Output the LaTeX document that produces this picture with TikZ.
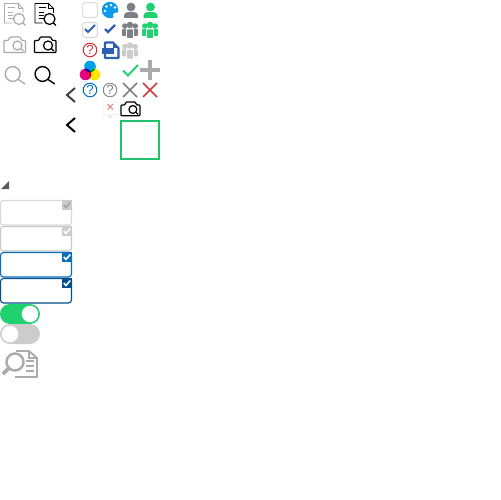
\documentclass[tikz,border=0pt]{standalone}
\usepackage{tikz}
\usepackage{fontspec}
\newfontfamily\helpfont{Liberation Sans}

\definecolor{lightgrey}{HTML}{ABABAB}
\definecolor{midgrey}{HTML}{7F7F86}
\definecolor{pale}{HTML}{CCCCCC}
\definecolor{appgreen}{HTML}{1FD16F}
\definecolor{boxgreen}{HTML}{22C26A}
\definecolor{appblue}{HTML}{0A6EBD}
\definecolor{darkblue}{HTML}{03508F}
\definecolor{checkblue}{HTML}{2C5FB3}
\definecolor{skyblue}{HTML}{0A9BEB}
\definecolor{alertred}{HTML}{D0393D}
\definecolor{inkcyan}{HTML}{00A0E6}
\definecolor{inkmagenta}{HTML}{E6007E}
\definecolor{inkyellow}{HTML}{FFE600}

\tikzset{
  iconline/.style={line width=0.7pt, line join=round},
  thinline/.style={line width=0.5pt, line join=round},
  fieldbox/.style={rounded corners=1.7pt, fill=white, line width=0.65pt},
  knob/.style={fill=white, draw=none},
  helpmark/.style={font=\helpfont\fontsize{7.5}{7.5}\selectfont}
}

% document with magnifier: \docicon{x}{colour}
\newcommand{\docicon}[2]{
  \begin{scope}[shift={(#1,0)}]
    \draw[thinline,draw=#2] (12,23) -- (4.5,23) -- (4.5,3.5) -- (18,3.5) -- (23,8.5) -- (23,13);
    \draw[thinline,draw=#2] (18,3.5) -- (18,8.5) -- (23,8.5);
    \draw[thinline,draw=#2] (8,7.5) -- (15,7.5);
    \foreach \y in {12,15,18} {
      \draw[thinline,draw=#2] (8,\y) -- (13,\y);
    }
    \draw[iconline,draw=#2] (19,19) circle (5.5);
    \draw[iconline,draw=#2] (23,23) -- (25.5,25.5);
  \end{scope}
}
% camera: \camicon{x}{y}{colour}{scale}
\newcommand{\camicon}[4]{
  \begin{scope}[shift={(#1,#2)},scale=#4]
    \draw[iconline,draw=#3,rounded corners=0.4pt] (0,3.5) -- (4,3.5) -- (6,0) -- (16,0) -- (18,3.5) -- (21.5,3.5) -- (21.5,15.5) -- (0,15.5) -- cycle;
    \draw[iconline,draw=#3] (13.5,8.5) circle (4.5);
    \draw[iconline,draw=#3] (16.5,11.5) -- (19.5,14);
  \end{scope}
}
% people group: \groupicon{x}{y}{colour}
\newcommand{\groupicon}[3]{
  \begin{scope}[shift={(#1,#2)}]
    \foreach \dx in {0,10.5} {
      \fill[#3] (\dx+2.8,5) circle (2.7);
      \fill[#3,rounded corners=0.5pt] (\dx,15) -- (\dx,8) -- (\dx+5.5,8) -- (\dx+5.5,15) -- cycle;
    }
    \fill[#3] (8,4) circle (3.3);
    \filldraw[#3,draw=white,line width=0.5pt,rounded corners=0.5pt] (4.5,17.5) -- (4.5,8) -- (11.5,8) -- (11.5,17.5) -- cycle;
  \end{scope}
}
% person: \personicon{x}{y}{colour}
\newcommand{\personicon}[3]{
  \begin{scope}[shift={(#1,#2)}]
    \fill[#3] (7,4) circle (4.4);
    \fill[#3] (0,15) -- (0,13) .. controls (0,9.5) and (3,9) .. (7,9) .. controls (11,9) and (14,9.5) .. (14,13) -- (14,15) -- cycle;
  \end{scope}
}
% small check tick
\newcommand{\tick}[4]{
  \draw[#3,line width=#4] (#1-5,#2) -- (#1-2,#2+3) -- (#1+5,#2-4);
}
% form field with corner check: \fieldicon{y}{border}{corner}{tick}
\newcommand{\fieldicon}[4]{
  \draw[fieldbox,draw=#2] (0.5,#1+0.5) rectangle (71.5,#1+25);
  \fill[#3] (62,#1) rectangle (72,#1+10);
  \draw[#4,line width=0.9pt] (63.8,#1+5) -- (66,#1+7.5) -- (70.2,#1+2.5);
}

\begin{document}
\begin{tikzpicture}[x=0.02cm,y=-0.02cm]
  \useasboundingbox (0,0) rectangle (500,500);

  % left columns
  \docicon{0}{lightgrey}
  \docicon{30.5}{black}
  \camicon{4}{37}{lightgrey}{1}
  \camicon{34.5}{37}{black}{1}
  \foreach \x/\c in {12.7/lightgrey,42.5/black} {
    \draw[line width=0.8pt,draw=\c] (\x,74) circle (7.4);
    \draw[line width=0.8pt,draw=\c] (\x+5.3,79.3) -- (\x+12.3,84);
  }

  % back arrows
  \draw[line width=1.1pt,draw=black!75] (75,88) -- (67,95) -- (75,102);
  \draw[line width=1.1pt] (75,118) -- (67,125) -- (75,132);

  % top icon rows
  \draw[fieldbox,draw=black!12] (82.5,2.5) rectangle (97.5,17.5);
  \draw[fieldbox,draw=black!15] (82.5,22.5) rectangle (97.5,37.5);
  \tick{90}{29}{checkblue}{1.1pt}
  \tick{110}{29}{checkblue}{1.4pt}

  % palette
  \fill[skyblue] (110,10) circle (8.2);
  \fill[white] (116,15.5) circle (3);
  \foreach \x/\y in {105/11,106.5/6.5,111/5,115/7.5} {
    \fill[white] (\x,\y) circle (1.3);
  }

  \personicon{124}{3}{midgrey}
  \personicon{143.5}{3}{appgreen}
  \groupicon{122}{21}{midgrey}
  \groupicon{142}{21}{appgreen}
  \groupicon{122}{41.5}{pale}

  % help circles
  \draw[line width=0.6pt,draw=alertred] (90,50) circle (6.8);
  \node[text=alertred,helpmark] (helpred) at (90,50) {?};
  \draw[line width=0.6pt,draw=appblue] (90,90) circle (6.8);
  \node[text=appblue,helpmark] (helpblue) at (90,90) {?};
  \draw[line width=0.5pt,draw=midgrey] (110,90) circle (6.8);
  \node[text=midgrey,helpmark] (helpgrey) at (110,90) {?};

  % file icon
  \draw[line width=1.2pt,draw=checkblue,line join=round] (105,48) -- (105,42.5) -- (113,42.5) -- (118.5,48) -- (118.5,58) -- (105,58) -- (105,54);
  \fill[checkblue] (113,42.5) -- (118.5,48) -- (113,48) -- cycle;
  \fill[checkblue] (102,48.5) rectangle (114,54);

  % cmyk dots
  \fill[inkcyan] (90,66.5) circle (5.8);
  \fill[inkmagenta] (85.5,74.5) circle (5.8);
  \fill[inkyellow] (94.5,74.5) circle (5.8);
  \begin{scope}
    \clip (90,66.5) circle (5.8);
    \fill[blue!80!black] (85.5,74.5) circle (5.8);
    \fill[green!60!black] (94.5,74.5) circle (5.8);
  \end{scope}
  \begin{scope}
    \clip (85.5,74.5) circle (5.8);
    \fill[red!85!black] (94.5,74.5) circle (5.8);
    \clip (90,66.5) circle (5.8);
    \fill[black] (94.5,74.5) circle (5.8);
  \end{scope}

  % check, plus, crosses
  \draw[appgreen,line width=1.1pt] (123,70.5) -- (128,75.5) -- (138,65);
  \draw[lightgrey,line width=2pt] (150,60) -- (150,80) (140,70) -- (160,70);
  \draw[midgrey,line width=1pt] (123,83) -- (137,97) (123,97) -- (137,83);
  \draw[alertred,line width=1pt] (143,83) -- (157,97) (143,97) -- (157,83);

  % small cross with faded base
  \draw[black!4] (103,101) rectangle (118,114);
  \draw[alertred!70,line width=0.6pt] (107.5,104) -- (113,109.5) (107.5,109.5) -- (113,104);
  \fill[black!6] (103,113.5) rectangle (118,115);
  \fill[black!8] (108,115) rectangle (112,118);

  \camicon{121}{102}{black}{0.88}

  % green box
  \draw[boxgreen,line width=1.2pt] (121,121) rectangle (159,159);

  % corner triangle
  \fill[black!65] (1,189) -- (9,189) -- (9,181) -- cycle;

  % form fields
  \fieldicon{200}{black!15}{pale}{black!35}
  \fieldicon{226}{black!22}{pale}{white}
  \fieldicon{252}{appblue}{appblue}{white}
  \fieldicon{278}{darkblue}{darkblue}{white}

  % toggles
  \fill[appgreen,rounded corners=0.2cm] (0,304) rectangle (40,324);
  \fill[knob] (30,314) circle (8.3);
  \fill[pale,rounded corners=0.2cm] (0,324) rectangle (40,344);
  \fill[knob] (10,334) circle (8.3);

  % large doc with magnifier
  \draw[line width=1.1pt,draw=lightgrey,line join=round] (16,351) -- (29,351) -- (37,358) -- (37,377) -- (15,377);
  \draw[line width=1pt,draw=lightgrey] (29,351) -- (29,358) -- (37,358);
  \foreach \y in {361,366,371} {
    \draw[line width=1pt,draw=lightgrey] (26,\y) -- (34,\y);
  }
  \draw[line width=1.4pt,draw=lightgrey,fill=white] (15,362) circle (8.5);
  \draw[line width=2.2pt,draw=lightgrey] (9,368) -- (3,374);
\end{tikzpicture}
\end{document}
